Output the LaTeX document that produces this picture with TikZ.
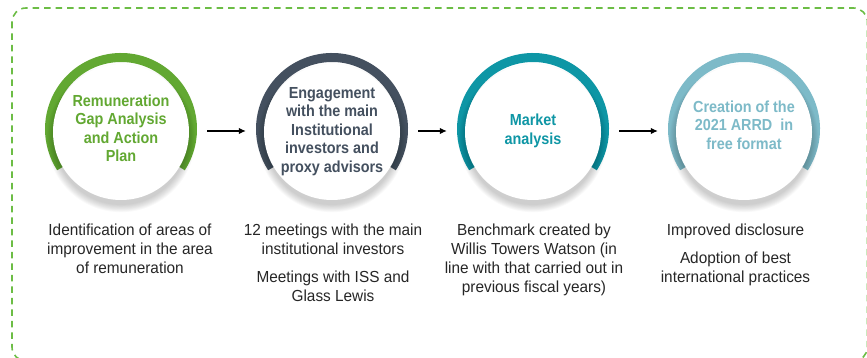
\documentclass[tikz,border=0pt]{standalone}
\usepackage{fontspec}
\setmainfont{Liberation Sans}
\newfontfamily\headfont[FakeStretch=0.9]{Liberation Sans}
\newfontfamily\bodyfont[FakeStretch=0.96]{Liberation Sans}
\usetikzlibrary{arrows.meta}
\definecolor{cgreen}{HTML}{62A832}
\definecolor{cslate}{HTML}{44505F}
\definecolor{cteal}{HTML}{0E96A5}
\definecolor{clight}{HTML}{7DBAC8}
\definecolor{cborder}{HTML}{6CBD45}
\begin{document}
\begin{tikzpicture}[x=1pt,y=1pt,
  ringpos/.style={circle, minimum size=152pt, inner sep=0pt},
  disc/.style={circle, fill=white, minimum size=136pt, inner sep=0pt},
  headtext/.style={align=center, font=\headfont\bfseries\fontsize{16}{18.5}\selectfont},
  bodytext/.style={align=center, anchor=north, inner sep=0pt, font=\bodyfont\fontsize{16}{18.8}\selectfont, text=black!85},
  flow/.style={line width=1.2pt, -{Latex[length=7pt,width=6.5pt]}, shorten <=10pt, shorten >=10pt},
  ringline/.style={line width=9pt}
]
\useasboundingbox (0,0) rectangle (867,358);
\draw[cborder, line width=1.6pt, dash pattern=on 6.5pt off 5pt, rounded corners=14pt]
  (12,350) rectangle (867.5,-3);

% ring placeholders
\node[ringpos] (r1) at (121,229) {};
\node[ringpos] (r2) at (332,229) {};
\node[ringpos] (r3) at (533,229) {};
\node[ringpos] (r4) at (744,229) {};

% rings
\foreach \n/\c in {r1/cgreen, r2/cslate, r3/cteal, r4/clight}{
  \draw[ringline, \c] (\n.center) ++(-33:71.5) arc[start angle=-33, end angle=213, radius=71.5];
}

% shadows
\foreach \x in {121,332,533,744}{
  \foreach \i in {0,...,8}{
    \fill[black, opacity=0.022] (\x,220) circle ({67+\i*0.9});
  }
}

% white discs
\node[disc] (w1) at (121,226) {};
\node[disc] (w2) at (332,226) {};
\node[disc] (w3) at (533,226) {};
\node[disc] (w4) at (744,226) {};

% circle labels
\node[headtext, text=cgreen] (t1) at (121,229.5) {Remuneration\\Gap Analysis\\and Action\\Plan};
\node[headtext, text=cslate] (t2) at (332,226.5) {Engagement\\with the main\\Institutional\\investors and\\proxy advisors};
\node[headtext, text=cteal] (t3) at (533,227) {Market\\analysis};
\node[headtext, text=clight] (t4) at (744,233) {Creation of the\\2021 ARRD\ \ in\\free format};

% arrows
\draw[flow] ([yshift=-2pt]r1.east) -- ([yshift=-2pt]r2.west);
\draw[flow] ([yshift=-2pt]r2.east) -- ([yshift=-2pt]r3.west);
\draw[flow] ([yshift=-2pt]r3.east) -- ([yshift=-2pt]r4.west);

% descriptions
\node[bodytext] (d1) at (130,134) {Identification of areas of\\improvement in the area\\of remuneration};
\node[bodytext] (d2) at (333,134) {12 meetings with the main\\institutional investors\\[9pt]Meetings with ISS and\\Glass Lewis};
\node[bodytext] (d3) at (534,134) {Benchmark created by\\Willis Towers Watson (in\\line with that carried out in\\previous fiscal years)};
\node[bodytext] (d4) at (735.5,134) {Improved disclosure\\[9pt]Adoption of best\\international practices};
\end{tikzpicture}
\end{document}
